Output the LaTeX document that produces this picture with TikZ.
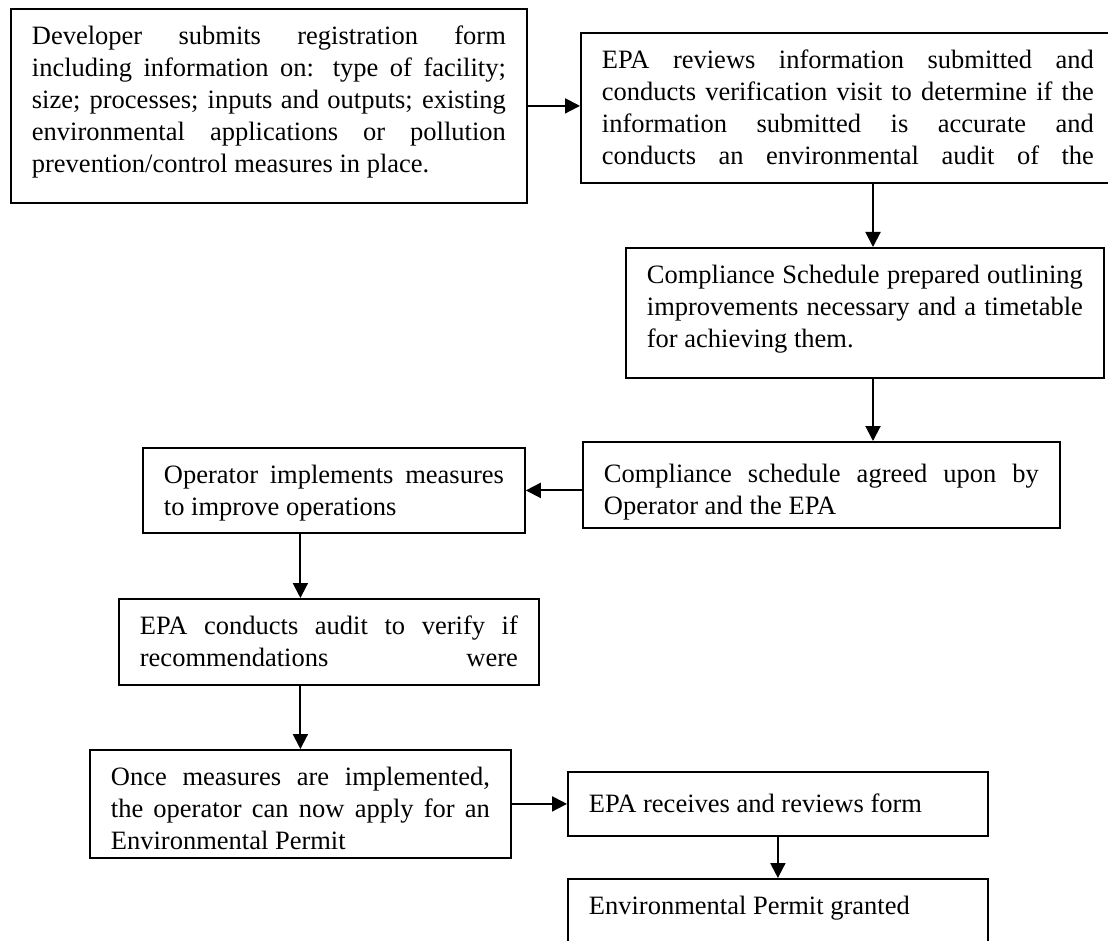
\documentclass[tikz,border=0pt]{standalone}
\usepackage{fontspec}
\setmainfont{Liberation Serif}
\usetikzlibrary{arrows.meta}

\newcommand\boxfont{\fontsize{26.5}{32}\selectfont\hyphenpenalty=10000\tolerance=9999\relax}

\begin{document}
\begin{tikzpicture}[
      x=1pt, y=-1pt,
      stepbox/.style={
         draw=black,
         line width=1.8pt,
         anchor=north west,
         inner xsep=21pt,
         inner ysep=0pt,
         text height=36pt,
         align=justify,
         font=\boxfont},
      myarrow/.style={line width=2pt,-{Triangle[length=15pt,width=15pt]}}
      ]
      \useasboundingbox (0,0) rectangle (1108,941);
      \fill[white] (0,0) rectangle (1108,941);
      \clip (0,0) rectangle (1108,941);

      \node[stepbox, text width=474pt, text depth=158pt] (dev) at (10,8)
        {Developer submits registration form\linebreak
         including information on: type of facility;\linebreak
         size; processes; inputs and outputs; existing\linebreak
         environmental applications or pollution\linebreak
         prevention/control measures in place.};
      \node[stepbox, text width=492pt, text depth=114pt] (rev) at (580,32)
        {EPA reviews information submitted and\linebreak
         conducts verification visit to determine if the\linebreak
         information submitted is accurate and\linebreak
         conducts an environmental audit of the\parfillskip=0pt\par};
      \node[stepbox, text width=436pt, text depth=94pt] (cs) at (625,247)
        {Compliance Schedule prepared outlining\linebreak
         improvements necessary and a timetable\linebreak
         for achieving them.};
      \node[stepbox, text width=435pt, text height=41pt, text depth=45pt] (agr) at (582,441)
        {Compliance schedule agreed upon by\linebreak
         Operator and the EPA};
      \node[stepbox, text width=340pt, text depth=49pt] (imp) at (142,447)
        {Operator implements measures\linebreak
         to improve operations};
      \node[stepbox, text width=378pt, text depth=50pt] (aud) at (118,598)
        {EPA conducts audit to verify if\linebreak
         recommendations were\parfillskip=0pt\par};
      \node[stepbox, text width=379pt, text depth=72pt] (once) at (89,749)
        {Once measures are implemented,\linebreak
         the operator can now apply for an\linebreak
         Environmental Permit};
      \node[stepbox, text width=378pt, text height=41pt, text depth=23pt] (recv) at (567,771)
        {EPA receives and reviews form};
      \node[stepbox, text width=378pt, text depth=64pt] (grant) at (567,878)
        {Environmental Permit granted};

      \coordinate (col) at (873,0);

    \foreach \a/\b in {% from/to
      dev.east/dev.east -| rev.west,
      rev.south -| col/cs.north -| col,
      cs.south -| col/agr.north -| col,
      agr.west |- imp.east/imp.east,
      imp.south -| once.north/aud.north -| once.north,
      aud.south -| once.north/once.north,
      once.east/once.east -| recv.west,
      recv.south/grant.north}
       \draw[myarrow] (\a) -- (\b);
    \end{tikzpicture}
\end{document}
